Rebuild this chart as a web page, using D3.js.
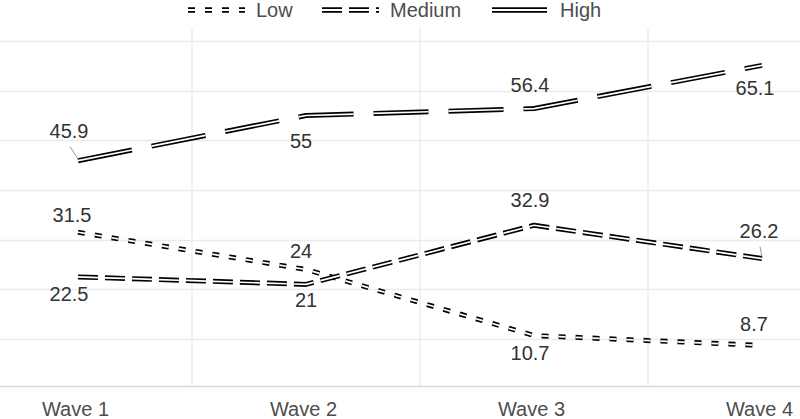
<!DOCTYPE html>
<html>
<head>
<meta charset="utf-8">
<script src="https://cdn.jsdelivr.net/npm/d3@7"></script>
<style>
  html, body { margin: 0; padding: 0; background: #fff; }
  svg { display: block; }
</style>
</head>
<body>
<svg id="chart" width="800" height="419"></svg>
<script>
// ---- data ----
const waves = ["Wave 1", "Wave 2", "Wave 3", "Wave 4"];
const seriesNames = ["Low", "Medium", "High"];
const lowValues = [31.5, 24, 10.7, 8.7];
const mediumValues = [22.5, 21, 32.9, 26.2];
const highValues = [45.9, 55, 56.4, 65.1];
const yTicks = [0, 10, 20, 30, 40, 50, 60, 70];

// ---- label layout (pixel nudges, emulating repel placement) ----
const labelNudge = {
  Low:    [[-6, -10], [-5, -11], [-4, 24], [-8, -14]],
  Medium: [[-9, 24], [0, 23], [-4, -18], [-3, -21]],
  High:   [[-9, -23], [-5, 32], [-4, -17], [-7, 30]]
};
const leaders = { High: [0], Medium: [3] };

const dashes = { Low: "7,10", Medium: "20,7", High: "55,20" };

const series = [
  { name: "Low", values: lowValues },
  { name: "Medium", values: mediumValues },
  { name: "High", values: highValues }
];

const svg = d3.select("#chart");
const W = 800, H = 419;
const panelTop = 28, panelBottom = 386;

const x = d3.scalePoint().domain(waves).range([78, 762]);
const y = d3.scaleLinear().domain([0, 70]).range([388.7, 41]);

// grid
const grid = svg.append("g");
grid.selectAll("line.h").data(yTicks.filter(t => t > 0)).join("line")
  .attr("x1", 0).attr("x2", W)
  .attr("y1", d => Math.round(y(d)) + 0.5).attr("y2", d => Math.round(y(d)) + 0.5)
  .attr("stroke", "#ebebeb").attr("stroke-width", 1.3);
const step = x.step();
grid.selectAll("line.v").data(waves.slice(0, -1)).join("line")
  .attr("x1", d => x(d) + step / 2).attr("x2", d => x(d) + step / 2)
  .attr("y1", panelTop).attr("y2", panelBottom)
  .attr("stroke", "#ebebeb").attr("stroke-width", 1.3);
// x axis line
svg.append("line").attr("x1", 0).attr("x2", W)
  .attr("y1", panelBottom + 0.5).attr("y2", panelBottom + 0.5)
  .attr("stroke", "#d9d9d9").attr("stroke-width", 1.3);

// x axis tick labels
const xAxis = d3.axisBottom(x).tickSize(0).tickPadding(0);
const gx = svg.append("g").attr("transform", `translate(0, 400)`).call(xAxis);
gx.select(".domain").remove();
gx.selectAll("text")
  .attr("dx", -3)
  .attr("dy", "0.78em")
  .style("font-family", "'Liberation Sans', Arial, sans-serif")
  .style("font-size", "20px")
  .attr("fill", "#4d4d4d");

// lines
const lineGen = d3.line().x((d, i) => x(waves[i])).y(d => y(d));
const lines = svg.append("g");
series.forEach(s => {
  lines.append("path").attr("d", lineGen(s.values))
    .attr("fill", "none").attr("stroke", "#000").attr("stroke-width", 5)
    .attr("stroke-dasharray", dashes[s.name]).attr("stroke-linejoin", "round");
  lines.append("path").attr("d", lineGen(s.values))
    .attr("fill", "none").attr("stroke", "#fff").attr("stroke-width", 1.7)
    .attr("stroke-dasharray", dashes[s.name]).attr("stroke-linejoin", "round");
});

// labels
const labels = svg.append("g");
series.forEach(s => {
  s.values.forEach((v, i) => {
    const px = x(waves[i]), py = y(v);
    const [dx, dy] = labelNudge[s.name][i];
    if (leaders[s.name] && leaders[s.name].includes(i)) {
      const ty = dy < 0 ? py + dy + 9 : py + dy - 22;
      labels.append("line")
        .attr("x1", px + dx + 1).attr("y1", ty)
        .attr("x2", px).attr("y2", py - 2)
        .attr("stroke", "#999").attr("stroke-width", 1);
    }
    labels.append("text")
      .attr("x", px + dx).attr("y", py + dy)
      .attr("text-anchor", "middle")
      .style("font-family", "'Liberation Sans', Arial, sans-serif")
      .style("font-size", "20px")
      .attr("fill", "#333")
      .text(v);
  });
});

// legend
const legendPos = { Low: 188, Medium: 322, High: 492 };
const legend = svg.append("g");
seriesNames.forEach(n => {
  const lx = legendPos[n];
  legend.append("line").attr("x1", lx).attr("x2", lx + 57).attr("y1", 10).attr("y2", 10)
    .attr("stroke", "#000").attr("stroke-width", 5.4).attr("stroke-dasharray", dashes[n]);
  legend.append("line").attr("x1", lx).attr("x2", lx + 57).attr("y1", 10).attr("y2", 10)
    .attr("stroke", "#fff").attr("stroke-width", 1.8).attr("stroke-dasharray", dashes[n]);
  legend.append("text").attr("x", lx + 68).attr("y", 17)
    .style("font-family", "'Liberation Sans', Arial, sans-serif")
    .style("font-size", "20px")
    .attr("fill", "#4d4d4d")
    .text(n);
});
</script>
</body>
</html>
